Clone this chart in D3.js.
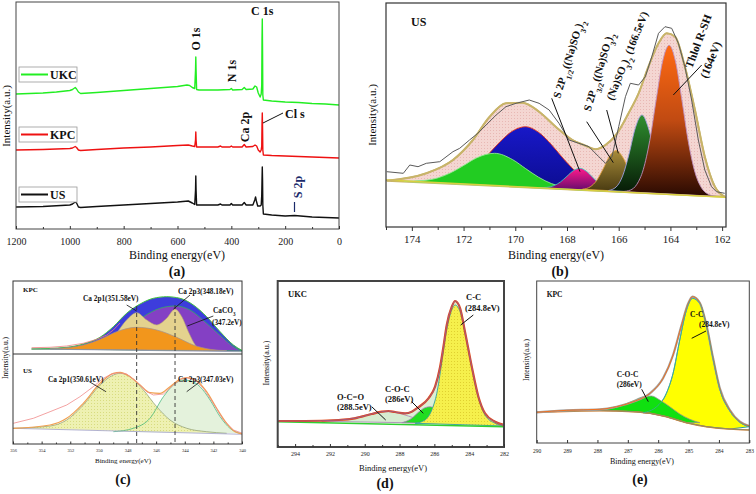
<!DOCTYPE html>
<html><head><meta charset="utf-8">
<script src="https://cdn.jsdelivr.net/npm/d3@7"></script>
<style>
body{margin:0;background:#fff;}
svg{display:block;font-family:"Liberation Serif","Times New Roman",serif;}
</style></head><body>
<svg id="c" width="756" height="494"></svg>
<script>
// ---------------- DATA ----------------
// (a) survey spectra [binding energy eV, intensity a.u.]
const surveyTicks = [1200,1000,800,600,400,200,0];
const surveyMinor = [1100,900,700,500,300,100];
const surveyUKC = [[1200,135],[1150,135.5],[1100,136],[1050,137],[1000,138.5],[990,139.5],[980,141.5],[975,140],[968,137],[960,135.5],[900,136.5],[800,138.5],[700,140.5],[600,142.5],[565,144],[555,143.5],[545,141.5],[536,140.5],[533,159],[532,172],[531,159],[529,139.5],[520,139],[450,139],[405,139.5],[400,140.5],[395,139],[360,139.5],[352,141.5],[345,139.5],[320,140],[312,143],[306,142],[300,136],[293,132],[289,135],[287,144],[286,189],[285,210],[284,179],[283,134],[281,129],[250,128],[200,127],[150,126.5],[100,125.5],[50,125],[0,124]];
const surveyKPC = [[1200,79],[1100,79.5],[1000,80.5],[990,81],[980,82.5],[975,81.5],[968,79],[960,78.5],[900,79.5],[800,81],[700,82],[600,83.5],[560,84],[545,83],[536,82.5],[533,89],[532,97],[531,89],[529,82],[450,82],[440,83],[435,82],[405,82],[400,83],[395,82],[360,82],[352,84.5],[345,82],[320,82.5],[312,84],[306,83],[300,79],[293,77],[289,79],[287,83],[286,104],[285,116],[284,101],[283,79],[281,74],[250,73.5],[200,73],[100,72],[0,71]];
const surveyUS = [[1200,22],[1100,22.5],[1000,24],[990,25],[980,27],[975,26],[968,22],[960,21.5],[900,22.5],[800,24],[700,25.5],[600,27],[560,28],[545,26],[536,24.5],[533,39],[532,53],[531,39],[529,24],[450,24],[440,25],[435,24],[405,24],[400,25.5],[395,24],[360,24],[352,26.5],[345,24],[320,24],[313,29],[310,32],[307,28],[302,23],[293,23],[289,24],[287,34],[286,49],[285,62],[284,49],[283,24],[281,15],[250,14],[200,13],[165,13.5],[100,12],[50,11.5],[0,11]];
const surveySeries = ["UKC","KPC","US"];

// (b) S 2p of US
const s2pTicks = [174,172,170,168,166,164,162];
const s2pMinor = [175,173,171,169,167,165,163];
const s2pBaseline = [[175,47],[161.85,29.8]];
const s2pRaw = [[174.97,55.3],[174.33,53.7],[174.08,62],[173.76,60.3],[173.44,63.7],[172.92,65.3],[172.41,75.3],[172.15,78.7],[171.77,87],[171.45,93.7],[171.13,102],[170.74,112],[170.36,120.3],[169.97,123.7],[169.46,127],[169.08,123.7],[168.69,117],[168.31,103.7],[167.92,87],[167.54,83.7],[167.15,80.3],[166.77,70.3],[166.51,63.7],[166.26,70.3],[166.0,100.3],[165.74,130.3],[165.55,143.7],[165.23,142],[164.97,150.3],[164.72,170.3],[164.46,193.7],[164.21,200.3],[163.95,198.7],[163.69,183.7],[163.44,160.3],[163.18,127],[162.92,87],[162.67,57],[162.41,40.3],[162.22,35.3],[161.9,33.7]];
const s2pEnvelope = [[174.97,46.3],[173.44,53.7],[172.41,67],[171.64,87],[171.0,110],[170.36,123.7],[169.72,124.3],[169.08,115.3],[168.44,100.3],[167.79,87],[167.28,81.3],[166.9,77.7],[166.51,82],[166.06,93.7],[165.62,113.7],[165.23,133.7],[164.85,160.3],[164.46,183.7],[164.14,193.7],[163.82,190.3],[163.44,160.3],[163.05,117],[162.67,70.3],[162.28,40.3],[161.9,30.3]];
const s2pBlue = [[173.4,45.5],[172.6,47.3],[172.1,51.3],[171.6,59.3],[171.1,71.1],[170.6,84.9],[170.1,96.1],[169.6,100.3],[169.1,94.7],[168.6,82.3],[168.1,67.2],[167.6,54.0],[167.1,44.8],[166.6,39.5],[165.8,35.6]];
const s2pGreen = [[174.3,45.6],[173.6,46.4],[173.0,49.1],[172.5,54.2],[172.0,61.5],[171.5,69.1],[170.8,73.7],[170.1,67.3],[169.6,58.4],[169.1,49.8],[168.6,43.4],[168.0,39.5],[167.3,36.9]];
const s2pMagenta = [[169.1,39.3],[168.8,39.6],[168.5,41.4],[168.25,45.1],[168.0,50.8],[167.75,56.4],[167.5,58.7],[167.25,55.7],[167.0,49.5],[166.75,43.2],[166.5,38.8],[166.2,36.2],[165.9,35.1]];
const s2pOlive = [[167.4,37.7],[167.1,40.2],[166.85,46.6],[166.6,58.2],[166.35,70.9],[166.1,76.4],[165.85,70.1],[165.6,56.8],[165.35,44.6],[165.1,37.6],[164.8,34.3]];
const s2pDarkGreen = [[166.4,36.4],[166.1,40.0],[165.85,50.9],[165.6,73.0],[165.35,99.7],[165.1,112],[164.85,99.0],[164.6,71.7],[164.35,49.0],[164.1,37.3],[163.8,33.0]];
const s2pThiol = [[165.85,35.4],[165.55,36.9],[165.3,42.6],[165.05,57.4],[164.8,86.3],[164.55,127.3],[164.3,165.8],[164.05,181.7],[163.8,165.2],[163.55,126.0],[163.3,84.3],[163.05,54.8],[162.8,39.3],[162.55,33.0],[162.25,30.7]];

// (c) Ca 2p, KPC (top) and US (bottom)
const caTicks = [356,354,352,350,348,346,344,342,340];
const caMinor = [355,353,351,349,347,345,343,341];
const caKPCbaseline = [[354.7,5],[339.97,2.3]];
const caKPCraw = [[354.7,6.3],[353.41,6.7],[352.25,8],[351.09,10.7],[350.15,14.7],[349.45,19],[348.99,24],[348.52,31]];
const caKPCenvelope = [[354.7,5],[352.25,6.7],[351.09,10],[349.92,16.7],[348.99,27.3],[348.06,40.7],[347.12,50],[346.19,55.7],[345.26,57.3],[344.33,55.7],[343.4,49],[342.47,37.3],[341.53,22.3],[340.6,9],[339.97,3.3]];
const caKPCpurple = [[352.25,5],[350.39,6.7],[349.22,12.3],[348.06,24],[346.89,37.3],[345.73,45.7],[344.68,48],[343.63,44],[342.47,30.7],[341.3,15.7],[340.6,7.3],[339.97,3]];
const caKPCtan = [[349.92,6.3],[348.99,16.7],[348.06,34],[347.36,41.3],[346.66,34],[345.96,29],[345.26,35.7],[344.68,44.7],[344.21,37.3],[343.75,22.3],[343.17,7.3],[342.7,4]];
const caKPCorange = [[353.41,5],[351.09,9],[349.92,14.7],[348.76,22.3],[347.36,26.7],[345.96,24],[344.56,16.7],[343.4,9],[342.23,4.7],[341.07,3.3]];
const caUSbaseline = [[355.98,15.7],[339.97,9.7]];
const caUSraw = [[355.98,20.7],[354.58,25.7],[353.41,32.3],[352.25,39],[351.32,47.3],[350.39,57.3],[349.69,65.7],[349.1,70],[348.64,71.3],[348.06,70],[347.36,62.3],[346.66,52.3],[346.19,49],[345.49,50],[344.8,59],[344.21,65],[343.86,66.3],[343.28,64],[342.7,55.7],[342.0,40.7],[341.3,24],[340.6,14],[339.97,10.7]];
const caUSenvelope = [[355.98,15.7],[353.41,19],[352.25,25.7],[351.09,40.7],[349.92,60.7],[348.99,70.7],[348.52,71.7],[347.82,67.3],[347.12,59],[346.43,51.3],[345.73,50.7],[345.03,57.3],[344.33,64.7],[343.86,66.3],[343.17,63.3],[342.47,52.3],[341.77,35.7],[341.07,20.7],[340.49,12.3],[339.97,10]];
const caUScomp1 = [[355.98,15.7],[353.41,18],[352.25,24],[351.09,39],[349.92,59],[348.99,69],[348.52,70.7],[347.82,67.3],[346.89,54],[345.96,37.3],[345.03,24],[343.86,15.7],[342.47,12.3],[341.07,10.7]];
const caUScomp2 = [[348.99,12.3],[347.59,15.7],[346.43,25.7],[345.49,47.3],[344.8,59],[344.1,64],[343.63,63.3],[342.93,57.3],[342.23,44],[341.53,27.3],[340.84,15.7],[340.14,10.7]];
const caRefLines = [347.36, 344.68];

// (d) C 1s of UKC
const ukcTicks = [294,292,290,288,286,284,282];
const ukcMinor = [295,293,291,289,287,285,283];
const c1sUKCbaseline = [[295,25.3],[282,20.3]];
const c1sUKCenvelope = [[294.97,26],[293.43,26],[291.51,27],[290.56,28.7],[289.6,33],[289.02,35.3],[288.64,36],[288.26,35],[287.68,33.7],[287.3,35.3],[286.92,39.7],[286.34,48.7],[285.96,60.3],[285.67,80.3],[285.48,100.3],[285.29,122],[285.0,140.3],[284.81,146],[284.52,138.7],[284.24,115.3],[283.85,80.3],[283.47,50.3],[283.09,33.7],[282.51,25.3],[282.0,22]];
const c1sUKCcc = [[287.1,23.7],[286.54,27],[286.15,37],[285.86,53.7],[285.58,83.7],[285.29,117],[285.0,137],[284.81,142],[284.52,135.3],[284.24,113.7],[283.85,78.7],[283.47,48.7],[283.09,32],[282.51,23.7],[282.0,21]];
const c1sUKCcoc = [[287.87,24.3],[287.3,28.7],[286.92,34.7],[286.54,39.3],[286.25,40.3],[285.86,37],[285.48,30.3],[285.0,25.3],[284.43,23]];
const c1sUKCoco = [[292.47,25.7],[291.13,27.7],[290.17,31],[289.4,34.3],[288.64,35.3],[287.87,33],[287.1,28.7],[286.34,25.3],[285.58,23.7]];

// (e) C 1s of KPC
const kpcTicks = [290,289,288,287,286,285,284,283];
const c1sKPCbaseline = [[290,30.7],[287.92,32.3],[286.82,31.3],[286.27,29.7],[285.73,26.3],[285.07,20.3],[284.41,16.3],[283.64,14],[283.0,13]];
const c1sKPCenvelope = [[290,30.7],[289.01,32.7],[287.92,33.7],[287.37,36.3],[286.82,41.3],[286.27,49.7],[285.84,64.7],[285.51,88],[285.23,118],[285.01,139.7],[284.87,146.3],[284.63,140.3],[284.41,118],[284.19,84.7],[283.97,54.7],[283.64,33],[283.31,21.3],[283.0,17]];
const c1sKPCcc = [[286.49,30.3],[286.05,36.3],[285.73,49.7],[285.51,69.7],[285.29,103],[285.07,133],[284.87,144.7],[284.63,139.7],[284.41,117],[284.19,83.7],[283.97,53.7],[283.64,32],[283.31,20.7],[283.0,16.3]];
const c1sKPCcoc = [[287.92,32.7],[287.37,35.7],[286.82,42.3],[286.49,46.3],[286.22,47],[285.95,43],[285.62,36.3],[285.29,29],[284.96,23.7],[284.63,20.3]];

// ---------------- DRAWING ----------------
const svg = d3.select("#c");
const defs = svg.append("defs");
function grad(id, stops){
  const g = defs.append("linearGradient").attr("id",id).attr("x1",0).attr("y1",0).attr("x2",0).attr("y2",1);
  stops.forEach(s=>g.append("stop").attr("offset",s[0]).attr("stop-color",s[1]));
}
grad("gOrange",[[0,"#ff6a12"],[0.5,"#c04a12"],[1,"#2a0a02"]]);
grad("gDkGreen",[[0,"#2f8f2f"],[1,"#061806"]]);
grad("gMagenta",[[0,"#ff1a8c"],[1,"#5a0a6a"]]);
grad("gOlive",[[0,"#a88c3a"],[1,"#463810"]]);
grad("gBlue",[[0,"#1818c8"],[1,"#0c0c90"]]);
function dots(id,bg,dot){
  const p=defs.append("pattern").attr("id",id).attr("width",3).attr("height",3).attr("patternUnits","userSpaceOnUse");
  p.append("rect").attr("width",3).attr("height",3).attr("fill",bg);
  p.append("rect").attr("x",1).attr("y",1).attr("width",1).attr("height",1).attr("fill",dot);
}
dots("pPink","#f4d6d2","#e8b8b4");
dots("pYel","#eef1b2","#d8dc80");
dots("pYelD","#f6f04c","#e0d030");

let clipN = 0;
function clip(L,T,R,B){
  const id = "cl"+(clipN++);
  defs.append("clipPath").attr("id",id).append("rect").attr("x",L).attr("y",T).attr("width",R-L).attr("height",B-T);
  return "url(#"+id+")";
}
function lineGen(x,y,curve){ return d3.line().x(d=>x(d[0])).y(d=>y(d[1])).curve(curve||d3.curveMonotoneX); }
function bandPath(x,y,top,bottom){
  const lo=d3.min(top,d=>d[0]), hi=d3.max(top,d=>d[0]);
  const b = bottom.filter(d=>d[0]>lo&&d[0]<hi).sort((p,q)=>p[0]-q[0]);
  return lineGen(x,y)(top)+b.map(d=>`L${x(d[0])},${y(d[1])}`).join("")+"Z";
}
function fillComp(g,x,y,data,base,fill,stroke,sw){
  g.append("path").attr("d",bandPath(x,y,data,base)).attr("fill",fill).attr("stroke",stroke||"none").attr("stroke-width",sw||0.8);
}
function curveLine(g,x,y,data,stroke,sw,curve){
  g.append("path").attr("d",lineGen(x,y,curve)(data)).attr("fill","none").attr("stroke",stroke).attr("stroke-width",sw).attr("stroke-linejoin","round");
}
function axisB(g,x,B,major,minor,o){
  const ga = g.append("g").attr("transform",`translate(0,${B})`)
    .call(d3.axisBottom(x).tickValues(major).tickSizeInner(o.tick).tickSizeOuter(0).tickPadding(o.pad).tickFormat(d3.format("d")));
  ga.select(".domain").remove();
  ga.selectAll("text").attr("font-size",o.fs).attr("font-family","Liberation Serif").attr("fill","#222");
  ga.selectAll("line").attr("stroke","#333");
  if(minor){
    const gm = g.append("g").attr("transform",`translate(0,${B})`)
      .call(d3.axisBottom(x).tickValues(minor).tickSize(o.mtick).tickFormat(""));
    gm.select(".domain").remove();
    gm.selectAll("line").attr("stroke","#333");
  }
}
function frame(g,L,T,R,B,sw,col){
  g.append("rect").attr("x",L).attr("y",T).attr("width",R-L).attr("height",B-T).attr("fill","none").attr("stroke",col||"#333").attr("stroke-width",sw||1);
}
function txt(g,s,x,y,fs,opt){
  opt=opt||{};
  const t=g.append("text").attr("x",x).attr("y",y).attr("font-size",fs).attr("fill",opt.fill||"#111")
    .attr("font-weight",opt.bold?"bold":"normal").attr("text-anchor",opt.anchor||"start");
  if(opt.rot!==undefined){ t.attr("x",0).attr("y",0).attr("transform",`translate(${x},${y}) rotate(${opt.rot})`); }
  if(Array.isArray(s)){ s.forEach(p=>{ const ts=t.append("tspan").text(p[0]); if(p[1]){ts.attr("baseline-shift","sub").attr("font-size",fs*0.7);} }); }
  else t.text(s);
  return t;
}
function seg(g,x1,y1,x2,y2,col,sw,dash){
  const l=g.append("line").attr("x1",x1).attr("y1",y1).attr("x2",x2).attr("y2",y2).attr("stroke",col||"#111").attr("stroke-width",sw||1);
  if(dash) l.attr("stroke-dasharray",dash);
}

// ===== (a) survey =====
{
  const L=16,T=2,R=339,B=229;
  const g=svg.append("g");
  const x=d3.scaleLinear().domain([1200,0]).range([L,R]);
  const y=d3.scaleLinear().domain([0,B-T]).range([B,T]);
  const cols={UKC:"#22ee22",KPC:"#ee1111",US:"#111111"};
  const dat={UKC:surveyUKC,KPC:surveyKPC,US:surveyUS};
  const pg=g.append("g").attr("clip-path",clip(L,T,R,B));
  surveySeries.forEach(k=>curveLine(pg,x,y,dat[k],cols[k],1.4,d3.curveLinear));
  frame(g,L,T,R,B,1,"#444");
  axisB(g,x,B,surveyTicks,surveyMinor,{tick:-3,pad:9,fs:10,mtick:-2});
  const legY={UKC:67,KPC:127,US:187};
  surveySeries.forEach(k=>{
    g.append("rect").attr("x",19).attr("y",legY[k]).attr("width",58).attr("height",15).attr("fill","#fff").attr("stroke","#999").attr("stroke-width",0.8);
    seg(g,21,legY[k]+7.5,48,legY[k]+7.5,cols[k],2);
    txt(g,k,50,legY[k]+12,12,{bold:true});
  });
  txt(g,"C 1s",251,15,12,{bold:true});
  txt(g,"O 1s",200,39,12,{bold:true,rot:-90,anchor:"middle"});
  txt(g,"N 1s",236,71,12,{bold:true,rot:-90,anchor:"middle"});
  txt(g,"Ca 2p",249,127,12,{bold:true,rot:-90,anchor:"middle"});
  txt(g,"Cl s",285,118,12,{bold:true});
  seg(g,263,123,283,113,"#111",1);
  txt(g,"S 2p",302,187,12,{bold:true,rot:-90,anchor:"middle",fill:"#1a2a6a"});
  seg(g,294.5,202,294.5,212,"#1a2a6a",1.2);
  txt(g,"Intensity(a.u.)",10,116,11,{rot:-90,anchor:"middle"});
  txt(g,"Binding energy(eV)",177,259,12,{anchor:"middle"});
  txt(g,"(a)",177,276,14,{bold:true,anchor:"middle"});
}

// ===== (b) S 2p =====
{
  const L=386,T=3,R=726,B=227;
  const g=svg.append("g");
  const x=d3.scaleLinear().domain([175,161.85]).range([L,R]);
  const y=d3.scaleLinear().domain([0,B-T]).range([B,T]);
  const pg=g.append("g").attr("clip-path",clip(L,T,R,B));
  fillComp(pg,x,y,s2pEnvelope,s2pBaseline,"url(#pPink)","#c8b46a",2);
  fillComp(pg,x,y,s2pBlue,s2pBaseline,"url(#gBlue)","#e03020",0.9);
  fillComp(pg,x,y,s2pGreen,s2pBaseline,"#22cc22","#90e890",0.9);
  fillComp(pg,x,y,s2pMagenta,s2pBaseline,"url(#gMagenta)","#40c0c0",0.9);
  fillComp(pg,x,y,s2pOlive,s2pBaseline,"url(#gOlive)","#e0a040",0.9);
  fillComp(pg,x,y,s2pDarkGreen,s2pBaseline,"url(#gDkGreen)","#a0a0e0",0.9);
  fillComp(pg,x,y,s2pThiol,s2pBaseline,"url(#gOrange)","#c090c0",0.9);
  curveLine(pg,x,y,s2pBaseline,"#d8d040",1.5,d3.curveLinear);
  curveLine(pg,x,y,s2pEnvelope,"#c8b46a",1.6);
  curveLine(pg,x,y,s2pRaw,"#5a5a5a",1,d3.curveLinear);
  frame(g,L,T,R,B,1.2,"#333");
  axisB(g,x,B,s2pTicks,s2pMinor,{tick:4,pad:4,fs:11,mtick:3});
  txt(g,"US",411,26,12,{bold:true});
  txt(g,[["S 2P"],["1/2",1],["((Na)SO"],["3",1],[")"],["2",1]],560,99,11,{bold:true,rot:-73});
  seg(g,551.7,98.3,580,171.7);
  txt(g,[["S 2P"],["3/2",1],["((Na)SO"],["3",1],[")"],["2",1]],590.5,112,11,{bold:true,rot:-73.5});
  seg(g,586.7,121.7,613.3,162.7);
  txt(g,[["(Na)SO"],["3",1],[")"],["2",1],[" (166.5eV)"]],613,101,11,{bold:true,rot:-68});
  seg(g,606.7,110,618.3,153.3);
  txt(g,"Thlol R-SH",692,69,11.5,{bold:true,rot:-69.5});
  txt(g,"(164eV)",707,79,11.5,{bold:true,rot:-68});
  seg(g,701.7,65,673.3,95);
  txt(g,"Intensity(a.u.)",376,115,11,{rot:-90,anchor:"middle"});
  txt(g,"Binding energy(eV)",556,259,12,{anchor:"middle"});
  txt(g,"(b)",560,276,14,{bold:true,anchor:"middle"});
}

// ===== (c) Ca 2p =====
{
  const L=13,T=281,M=354,R=242,B=444;
  const g=svg.append("g");
  const x=d3.scaleLinear().domain([356,340]).range([L,R]);
  const y1=d3.scaleLinear().domain([0,M-T]).range([M,T]);
  const y2=d3.scaleLinear().domain([0,B-M]).range([B,M]);
  const p1=g.append("g").attr("clip-path",clip(L,T,R,M));
  fillComp(p1,x,y1,caKPCenvelope,caKPCbaseline,"#3d3ddc","#40c040",1);
  fillComp(p1,x,y1,caKPCpurple,caKPCbaseline,"#8440c4","#30b060",0.8);
  fillComp(p1,x,y1,caKPCtan,caKPCbaseline,"#e4d28e","#c0b070",0.6);
  fillComp(p1,x,y1,caKPCorange,caKPCbaseline,"#f2961c","#a09090",0.7);
  curveLine(p1,x,y1,caKPCbaseline,"#9090b0",0.8,d3.curveLinear);
  curveLine(p1,x,y1,caKPCraw,"#f08080",0.8,d3.curveLinear);
  const p2=g.append("g").attr("clip-path",clip(L,M,R,B));
  fillComp(p2,x,y2,caUScomp2,caUSbaseline,"#e4f2dc","none");
  fillComp(p2,x,y2,caUScomp1,caUSbaseline,"url(#pYel)","none");
  curveLine(p2,x,y2,caUScomp1,"#8a9a70",0.7);
  curveLine(p2,x,y2,caUScomp2,"#30b070",0.7);
  curveLine(p2,x,y2,caUSbaseline,"#a0a0c8",0.8,d3.curveLinear);
  curveLine(p2,x,y2,caUSenvelope,"#f0a050",1.2);
  curveLine(p2,x,y2,caUSraw,"#f08a8a",0.8,d3.curveLinear);
  caRefLines.forEach((v,i)=>seg(g,x(v),i?305:306,x(v),B,"#333",0.9,"4,3"));
  seg(g,L,M,R,M,"#333",1);
  frame(g,L,T,R,B,1,"#333");
  axisB(g,x,B,caTicks,caMinor,{tick:-2.5,pad:5,fs:4.5,mtick:-1.5});
  txt(g,"KPC",23,292,7,{bold:true});
  txt(g,"US",23,373,7,{bold:true});
  txt(g,"Ca 2p1(351.58eV)",83,300.5,7.3,{bold:true});
  seg(g,126.7,305,136.7,311,"#111",0.8);
  txt(g,"Ca 2p3(348.18eV)",178,293.5,7.3,{bold:true});
  seg(g,190,295,173.3,309.3,"#111",0.8);
  txt(g,[["CaCO"],["3",1]],213,312.5,7.3,{bold:true});
  txt(g,"(347.2eV)",212,324.5,7.3,{bold:true});
  seg(g,213.3,316,187.3,326,"#111",0.8);
  txt(g,"Ca 2p1(350.61eV)",48,381.5,7.3,{bold:true});
  seg(g,89.3,381.7,106,391.7,"#111",0.8);
  txt(g,"Ca 2p3(347.03eV)",178,381.5,7.3,{bold:true});
  seg(g,200,381.7,186.7,391.7,"#111",0.8);
  txt(g,"Intensity(a.u.)",8,358,7.5,{rot:-90,anchor:"middle"});
  txt(g,"Binding energy(eV)",123,463,7,{anchor:"middle"});
  txt(g,"(c)",123,484,14,{bold:true,anchor:"middle"});
}

// ===== (d) C 1s UKC =====
{
  const L=277.7,T=281,R=504,B=447;
  const g=svg.append("g");
  const x=d3.scaleLinear().domain([295,282]).range([L,R]);
  const y=d3.scaleLinear().domain([0,B-T]).range([B,T]);
  const pg=g.append("g").attr("clip-path",clip(L,T,R,B));
  fillComp(pg,x,y,c1sUKCenvelope,c1sUKCbaseline,"#dcefd6","none");
  fillComp(pg,x,y,c1sUKCoco,c1sUKCbaseline,"#d6ecd0","#a070b0",0.7);
  fillComp(pg,x,y,c1sUKCcoc,c1sUKCbaseline,"#22dd22","#b080c0",0.8);
  fillComp(pg,x,y,c1sUKCcc,c1sUKCbaseline,"url(#pYelD)","#30a0a0",0.9);
  curveLine(pg,x,y,c1sUKCbaseline,"#30d030",1.5,d3.curveLinear);
  curveLine(pg,x,y,c1sUKCenvelope,"#e24a18",2.2);
  curveLine(pg,x,y,c1sUKCenvelope,"#8a60b0",0.7);
  frame(g,L,T,R,B,2,"#444");
  axisB(g,x,B,ukcTicks,ukcMinor,{tick:-3,pad:5,fs:6,mtick:-2});
  txt(g,"UKC",288,296.5,8.5,{bold:true});
  txt(g,"C-C",466,300,8.5,{bold:true});
  txt(g,"(284.8eV)",465,310.5,8.5,{bold:true});
  seg(g,473.3,315,460.7,325,"#111",1);
  txt(g,"C-O-C",385,391.5,8.5,{bold:true});
  txt(g,"(286eV)",385,402,8.5,{bold:true});
  seg(g,411.7,401.7,423.3,413.3,"#111",1);
  txt(g,"O-C=O",337,400,8.5,{bold:true});
  txt(g,"(288.5eV)",337,410,8.5,{bold:true});
  seg(g,371.7,406.7,385.7,420,"#111",1);
  txt(g,"Intensity(a.u.)",269,363,8,{rot:-90,anchor:"middle"});
  txt(g,"Binding energy(eV)",393,471,8.5,{anchor:"middle"});
  txt(g,"(d)",385,488,14,{bold:true,anchor:"middle"});
}

// ===== (e) C 1s KPC =====
{
  const L=536.7,T=281,R=749.3,B=443;
  const g=svg.append("g");
  const x=d3.scaleLinear().domain([290,283]).range([L,R]);
  const y=d3.scaleLinear().domain([0,B-T]).range([B,T]);
  const pg=g.append("g").attr("clip-path",clip(L,T,R,B));
  fillComp(pg,x,y,c1sKPCcc,c1sKPCbaseline,"#ffff00","#30a0a0",1);
  fillComp(pg,x,y,c1sKPCcoc,c1sKPCbaseline,"#10e010","#909090",0.8);
  curveLine(pg,x,y,c1sKPCbaseline,"#f07a20",1.6);
  curveLine(pg,x,y,c1sKPCbaseline,"#40a0a0",0.6);
  curveLine(pg,x,y,c1sKPCenvelope,"#a0a0a0",2.2);
  curveLine(pg,x,y,c1sKPCenvelope,"#f07020",1);
  curveLine(pg,x,y,c1sKPCcc,"#40a8a0",0.8);
  frame(g,L,T,R,B,1,"#444");
  axisB(g,x,B,kpcTicks,null,{tick:-3,pad:6,fs:5.5});
  txt(g,"KPC",546.7,296.5,7.5,{bold:true});
  txt(g,"C-C",690,317,7.5,{bold:true});
  txt(g,"(284.8eV)",699,327,7.5,{bold:true});
  seg(g,706,331,691.7,338.3,"#111",1);
  txt(g,"C-O-C",616.7,377,7.5,{bold:true});
  txt(g,"(286eV)",616.7,387,7.5,{bold:true});
  seg(g,641.7,389.3,648.3,401.7,"#111",1);
  txt(g,"Intensity(a.u.)",529,360,7.5,{rot:-90,anchor:"middle"});
  txt(g,"Binding energy(eV)",642,464,8,{anchor:"middle"});
  txt(g,"(e)",640,484,14,{bold:true,anchor:"middle"});
}
</script>
</body></html>
